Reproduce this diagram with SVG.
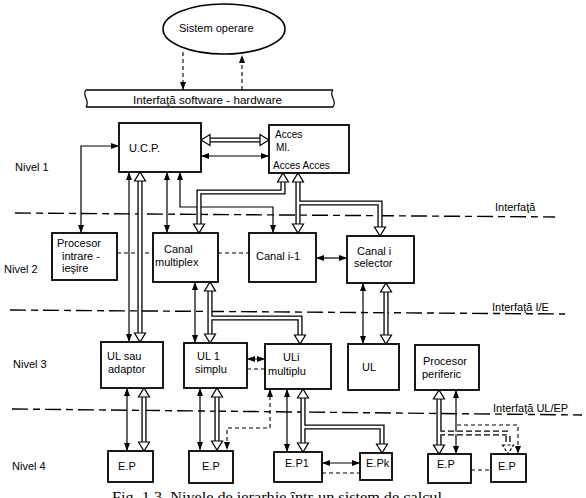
<svg xmlns="http://www.w3.org/2000/svg" width="586" height="498" viewBox="0 0 586 498">
<defs>
<marker id="ah" markerUnits="userSpaceOnUse" markerWidth="8" markerHeight="6" refX="8" refY="3" orient="auto-start-reverse"><path d="M0,0 L8,3 L0,6 z" fill="#000"/></marker>
<style>
.bg{fill:#fff}
.box{fill:#fff;stroke:#000;stroke-width:1.8}
.t{font-family:"Liberation Sans","DejaVu Sans",sans-serif;font-size:11px;fill:#000}
.ts{font-family:"Liberation Sans","DejaVu Sans",sans-serif;font-size:10px;fill:#000}
.cap{font-family:"Liberation Serif","DejaVu Serif",serif;font-size:14px;fill:#000}
.ln{fill:none;stroke:#000;stroke-width:1.2}
.dl{fill:none;stroke:#000;stroke-width:1.1;stroke-dasharray:4 3}
.ar{marker-end:url(#ah)}
.ar2{marker-start:url(#ah);marker-end:url(#ah)}
.ifc{fill:none;stroke:#000;stroke-width:1.4;stroke-dasharray:16 5 7 5}
.ho{fill:none;stroke:#000;stroke-width:5.2}
.hi{fill:none;stroke:#fff;stroke-width:2.6}
.hd{fill:#fff;stroke:#000;stroke-width:1.2}
.hod{fill:none;stroke:#000;stroke-width:5.2;stroke-dasharray:6 3}
.hdd{fill:#fff;stroke:#000;stroke-width:1.2;stroke-dasharray:3 2}
</style>
</defs>
<rect class="bg" x="0" y="0" width="586" height="498"/>

<!-- interface lines and labels -->
<g id="interfaces">
<line class="ifc" x1="15" y1="213" x2="555" y2="217"/>
<text class="t" x="495" y="211">Interfaţă</text>
<line class="ifc" x1="10" y1="310" x2="565" y2="314"/>
<text class="t" x="492" y="311">Interfaţă I/E</text>
<line class="ifc" x1="12" y1="409" x2="582" y2="415"/>
<text class="t" x="493" y="412">Interfaţă UL/EP</text>
</g>

<g id="levels">
<text class="t" x="15" y="171">Nivel 1</text>
<text class="t" x="4" y="273">Nivel 2</text>
<text class="t" x="13" y="368">Nivel 3</text>
<text class="t" x="12" y="470">Nivel 4</text>
</g>

<!-- connectors -->
<g id="connectors">
<path class="dl ar" d="M183,52 V90"/>
<path class="dl ar" d="M242,90 V55"/>
<path class="ln ar2" d="M81,233 V146 H119"/>
<path class="ln ar2" d="M201,156 H269"/>
<path class="ln ar2" d="M129,172 V342"/>
<path class="ln ar2" d="M167,172 V233"/>
<path class="ln ar2" d="M180,172 V207 H273 V233"/>
<path class="ln ar2" d="M316,258 H347"/>
<path class="ln ar2" d="M195,282 V343"/>
<path class="ln ar2" d="M363,283 V344"/>
<path class="ln ar2" d="M127,388 V451"/>
<path class="ln ar2" d="M200,388 V450"/>
<path class="ln ar2" d="M287,389 V452"/>
<path class="ln ar2" d="M456,390 V454"/>
<path class="ln ar2" d="M322,463 H360"/>
<path class="dl" d="M117,253 H153"/>
<path class="dl" d="M218,253 H249"/>
<path class="dl ar2" d="M247,359 H265"/>
<path class="dl" d="M247,369 H265"/>
<path class="dl ar2" d="M270,389 V428 H227 V450"/>
<path class="dl" d="M322,473 H360"/>
<path class="dl" d="M471,470 H491"/>
<path class="dl ar" d="M457,425 H518 V454"/>

<g>
<path class="ho" d="M210,140 H260"/><path class="hi" d="M210,140 H260"/>
<polygon class="hd" points="210,134.5 210,145.5 201,140"/>
<polygon class="hd" points="260,134.5 260,145.5 269,140"/>
</g>
<g>
<path class="ho" d="M140,181 V333"/><path class="hi" d="M140,181 V333"/>
<polygon class="hd" points="134.5,181 145.5,181 140,172"/>
<polygon class="hd" points="134.5,333 145.5,333 140,342"/>
</g>
<g>
<path class="ho" d="M283,182 V192 H199 V224"/><path class="hi" d="M283,182 V192 H199 V224"/>
<polygon class="hd" points="277.5,182 288.5,182 283,173"/>
<polygon class="hd" points="193.5,224 204.5,224 199,233"/>
</g>
<g>
<path class="ho" d="M298,182 V224 M298,203 H380 V227"/><path class="hi" d="M298,182 V224 M298,203 H380 V227"/>
<polygon class="hd" points="292.5,182 303.5,182 298,173"/>
<polygon class="hd" points="292.5,224 303.5,224 298,233"/>
<polygon class="hd" points="374.5,227 385.5,227 380,236"/>
</g>
<g>
<path class="ho" d="M210,291 V334 M210,318 H300 V335"/><path class="hi" d="M210,291 V334 M210,318 H300 V335"/>
<polygon class="hd" points="204.5,291 215.5,291 210,282"/>
<polygon class="hd" points="204.5,334 215.5,334 210,343"/>
<polygon class="hd" points="294.5,335 305.5,335 300,344"/>
</g>
<g>
<path class="ho" d="M386,292 V335"/><path class="hi" d="M386,292 V335"/>
<polygon class="hd" points="380.5,292 391.5,292 386,283"/>
<polygon class="hd" points="380.5,335 391.5,335 386,344"/>
</g>
<g>
<path class="ho" d="M144,397 V442"/><path class="hi" d="M144,397 V442"/>
<polygon class="hd" points="138.5,397 149.5,397 144,388"/>
<polygon class="hd" points="138.5,442 149.5,442 144,451"/>
</g>
<g>
<path class="ho" d="M217,397 V441"/><path class="hi" d="M217,397 V441"/>
<polygon class="hd" points="211.5,397 222.5,397 217,388"/>
<polygon class="hd" points="211.5,441 222.5,441 217,450"/>
</g>
<g>
<path class="ho" d="M303,398 V443 M303,427 H382 V444"/><path class="hi" d="M303,398 V443 M303,427 H382 V444"/>
<polygon class="hd" points="297.5,398 308.5,398 303,389"/>
<polygon class="hd" points="297.5,443 308.5,443 303,452"/>
<polygon class="hd" points="376.5,444 387.5,444 382,453"/>
</g>
<g>
<path class="hod" d="M439,433 H508 V445"/>
<path class="ho" d="M439,399 V445"/>
<path class="hi" d="M439,399 V445 M439,433 H508 V445"/>
<polygon class="hd" points="433.5,399 444.5,399 439,390"/>
<polygon class="hd" points="433.5,445 444.5,445 439,454"/>
<polygon class="hdd" points="502.5,445 513.5,445 508,454"/>
</g>
</g>

<!-- nodes -->
<g id="os">
<ellipse cx="224" cy="29" rx="61" ry="25" fill="#fff" stroke="#000" stroke-width="1.6"/>
<text class="t" x="179" y="32">Sistem operare</text>
</g>
<g id="sw-hw">
<path d="M86,90 H333 M86,107 H333" fill="none" stroke="#000" stroke-width="1.6"/>
<path d="M86,90 C81,95 91,101 86,107 M333,90 C328,95 338,101 333,107" fill="none" stroke="#000" stroke-width="1.2"/>
<text class="t" x="133" y="104" textLength="149" lengthAdjust="spacingAndGlyphs">Interfaţă software - hardware</text>
</g>
<g id="ucp">
<rect class="box" x="119" y="123" width="82" height="49"/>
<text class="t" x="129" y="152">U.C.P.</text>
</g>
<g id="acces">
<rect class="box" x="269" y="125" width="80" height="48"/>
<text class="ts" x="275" y="138">Acces</text>
<text class="ts" x="276" y="151">MI.</text>
<text class="ts" x="273" y="169">Acces Acces</text>
</g>
<g id="procesor-ie">
<rect class="box" x="52" y="233" width="65" height="47"/>
<text class="t" x="57" y="247">Procesor</text>
<text class="t" x="62" y="260">intrare -</text>
<text class="t" x="62" y="272">ieşire</text>
</g>
<g id="canal-multiplex">
<rect class="box" x="153" y="233" width="65" height="49"/>
<text class="t" x="164" y="253">Canal</text>
<text class="t" x="155" y="266">multiplex</text>
</g>
<g id="canal-i-1">
<rect class="box" x="249" y="233" width="67" height="49"/>
<text class="t" x="256" y="260">Canal i-1</text>
</g>
<g id="canal-i-selector">
<rect class="box" x="347" y="236" width="67" height="47"/>
<text class="t" x="357" y="255">Canal i</text>
<text class="t" x="354" y="267">selector</text>
</g>
<g id="ul-sau-adaptor">
<rect class="box" x="101" y="342" width="62" height="46"/>
<text class="t" x="107" y="360">UL sau</text>
<text class="t" x="108" y="373">adaptor</text>
</g>
<g id="ul1-simplu">
<rect class="box" x="184" y="343" width="63" height="45"/>
<text class="t" x="197" y="360">UL 1</text>
<text class="t" x="195" y="373">simplu</text>
</g>
<g id="uli-multiplu">
<rect class="box" x="265" y="344" width="66" height="45"/>
<text class="t" x="283" y="361">ULi</text>
<text class="t" x="268" y="375">multiplu</text>
</g>
<g id="ul">
<rect class="box" x="348" y="344" width="51" height="46"/>
<text class="t" x="362" y="371">UL</text>
</g>
<g id="procesor-periferic">
<rect class="box" x="415" y="345" width="64" height="45"/>
<text class="t" x="423" y="365">Procesor</text>
<text class="t" x="422" y="378">periferic</text>
</g>
<g id="ep-1">
<rect class="box" x="108" y="451" width="45" height="31"/>
<text class="t" x="118" y="470">E.P</text>
</g>
<g id="ep-2">
<rect class="box" x="189" y="451" width="44" height="32"/>
<text class="t" x="202" y="470">E.P</text>
</g>
<g id="ep1">
<rect class="box" x="274" y="452" width="48" height="30"/>
<text class="t" x="285" y="467">E.P1</text>
</g>
<g id="epk">
<rect class="box" x="360" y="453" width="32" height="27"/>
<text class="t" x="366" y="467">E.Pk</text>
</g>
<g id="ep-5">
<rect class="box" x="428" y="454" width="43" height="29"/>
<text class="t" x="437" y="468">E.P</text>
</g>
<g id="ep-6">
<rect class="box" x="491" y="454" width="35" height="28"/>
<text class="t" x="498" y="470">E.P</text>
</g>

<text class="cap" x="112" y="502" textLength="330" lengthAdjust="spacingAndGlyphs">Fig. 1.3. Nivele de ierarhie într-un sistem de calcul</text>
</svg>
